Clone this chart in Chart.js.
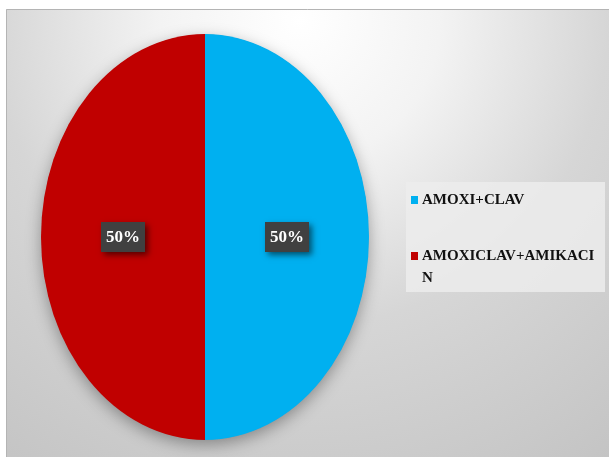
<!DOCTYPE html>
<html>
<head>
<meta charset="utf-8">
<script src="https://cdn.jsdelivr.net/npm/chart.js@4.4.1/dist/chart.umd.min.js"></script>
<style>
  html, body { margin: 0; padding: 0; background: #fff; }
  canvas { display: block; }
</style>
</head>
<body>
<canvas id="pieChart" width="612" height="457"></canvas>
<script>
// Treatment groups and their share of cases
const categories = ['AMOXI+CLAV', 'AMOXICLAV+AMIKACIN'];
const shares = [50, 50];
const sliceColors = ['#00B0F0', '#C00000'];

// vertical stretch applied to the pie so it reads as an ellipse
const STRETCH = 203 / 164;
const SERIF = '"Liberation Serif", "Times New Roman", serif';

function pctLabel(v) {
    const total = shares.reduce((a, b) => a + b, 0);
    return Math.round(v / total * 100) + '%';
}

// Frame with the soft grey radial fill
const framePlugin = {
    id: 'frame',
    beforeDraw(chart) {
        const ctx = chart.ctx;
        ctx.save();
        ctx.fillStyle = '#fff';
        ctx.fillRect(0, 0, chart.width, chart.height);
        const g = ctx.createRadialGradient(300, 20, 0, 300, 20, 560);
        g.addColorStop(0, '#ffffff');
        g.addColorStop(0.25, '#f3f3f3');
        g.addColorStop(0.55, '#d6d6d6');
        g.addColorStop(1, '#c2c2c2');
        ctx.fillStyle = g;
        ctx.fillRect(6, 9, 603, 448);
        ctx.strokeStyle = '#b4b4b4';
        ctx.lineWidth = 1;
        ctx.beginPath();
        ctx.moveTo(6.5, 457);
        ctx.lineTo(6.5, 9.5);
        ctx.lineTo(609, 9.5);
        ctx.stroke();
        ctx.restore();
    }
};

// Squash the round pie into an upright ellipse, with a drop shadow underneath
const ellipsePlugin = {
    id: 'ellipse',
    beforeDatasetsDraw(chart) {
        const arc = chart.getDatasetMeta(0).data[0];
        const ctx = chart.ctx;
        ctx.save();
        ctx.translate(arc.x, arc.y);
        ctx.scale(1, STRETCH);
        ctx.translate(-arc.x, -arc.y);
        ctx.save();
        ctx.shadowColor = 'rgba(0,0,0,0.35)';
        ctx.shadowBlur = 16;
        ctx.shadowOffsetY = 5;
        ctx.fillStyle = '#888';
        ctx.beginPath();
        ctx.arc(arc.x, arc.y, arc.outerRadius - 0.5, 0, Math.PI * 2);
        ctx.fill();
        ctx.restore();
    },
    afterDatasetsDraw(chart) {
        chart.ctx.restore();
    }
};

// Percent labels in dark boxes
const valueLabelPlugin = {
    id: 'valueLabels',
    afterDatasetsDraw(chart) {
        const ctx = chart.ctx;
        const meta = chart.getDatasetMeta(0);
        meta.data.forEach((arc, i) => {
            const pos = arc.tooltipPosition();
            const x = pos.x;
            const y = arc.y + (pos.y - arc.y) * STRETCH;
            const w = 44, h = 30;
            ctx.save();
            ctx.shadowColor = 'rgba(0,0,0,0.55)';
            ctx.shadowBlur = 6;
            ctx.shadowOffsetX = 3;
            ctx.shadowOffsetY = 3;
            ctx.fillStyle = '#404040';
            ctx.fillRect(x - w / 2, y - h / 2, w, h);
            ctx.restore();
            ctx.save();
            ctx.fillStyle = '#ffffff';
            ctx.font = 'bold 17px ' + SERIF;
            ctx.textAlign = 'center';
            ctx.textBaseline = 'middle';
            ctx.fillText(pctLabel(shares[i]), x, y + 1);
            ctx.restore();
        });
    }
};

// Legend box on the right, long names wrap by character
const legendPlugin = {
    id: 'sideLegend',
    afterDraw(chart) {
        const ctx = chart.ctx;
        const box = { x: 406, y: 182, w: 199, h: 110 };
        ctx.save();
        ctx.fillStyle = 'rgba(236,236,236,0.85)';
        ctx.fillRect(box.x, box.y, box.w, box.h);
        ctx.font = 'bold 15px ' + SERIF;
        ctx.textBaseline = 'middle';
        const textX = 422, maxW = 178, lineH = 22;
        const rowY = [200, 256];
        categories.forEach((name, i) => {
            ctx.fillStyle = sliceColors[i];
            ctx.fillRect(411, rowY[i] - 4, 7, 8);
            ctx.fillStyle = '#111';
            let line = '', y = rowY[i];
            for (const ch of name) {
                if (ctx.measureText(line + ch).width > maxW && line) {
                    ctx.fillText(line, textX, y);
                    line = '';
                    y += lineH;
                }
                line += ch;
            }
            ctx.fillText(line, textX, y);
        });
        ctx.restore();
    }
};

new Chart(document.getElementById('pieChart'), {
    type: 'pie',
    data: {
        labels: categories,
        datasets: [{
            data: shares,
            backgroundColor: sliceColors,
            borderWidth: 0
        }]
    },
    options: {
        responsive: false,
        animation: false,
        layout: {
            padding: { left: 41, right: 243, top: 73, bottom: 56 }
        },
        plugins: {
            legend: { display: false },
            tooltip: { enabled: false }
        }
    },
    plugins: [framePlugin, ellipsePlugin, valueLabelPlugin, legendPlugin]
});
</script>
</body>
</html>
